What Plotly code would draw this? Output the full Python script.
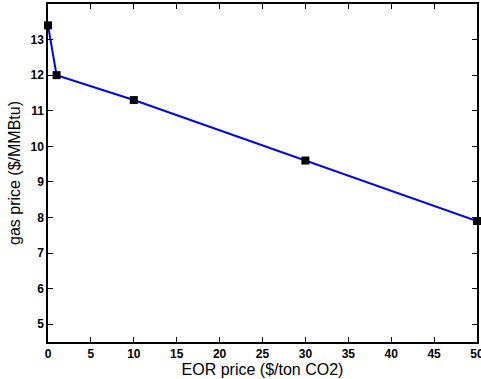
import plotly.graph_objects as go

eor_price = [0, 1, 10, 30, 50]
gas_price = [13.4, 12.0, 11.3, 9.6, 7.9]
x_ticks = [0, 5, 10, 15, 20, 25, 30, 35, 40, 45, 50]
y_ticks = [5, 6, 7, 8, 9, 10, 11, 12, 13]

fig = go.Figure()
fig.add_trace(go.Scatter(
    x=eor_price, y=gas_price, mode="lines+markers",
    line=dict(color="#0000ff", width=2),
    marker=dict(symbol="square", size=8, color="black"),
    cliponaxis=False,
))

axis_common = dict(
    showline=True, linecolor="black", linewidth=1.5, mirror="ticks",
    ticks="inside", ticklen=5, tickcolor="black", tickwidth=1,
    showgrid=False, zeroline=False, ticklabeloverflow="allow",
    tickfont=dict(family="Liberation Sans, Arial", size=12, color="black"),
)

fig.update_layout(
    width=481, height=379,
    margin=dict(l=48, r=4, t=4, b=37, autoexpand=False),
    paper_bgcolor="white", plot_bgcolor="white",
    showlegend=False,
    xaxis=dict(range=[0, 50], tickvals=x_ticks, ticktext=["<b>%d</b>" % v for v in x_ticks],
               automargin=False,
               title=dict(text="EOR price ($/ton CO2)", standoff=0,
                          font=dict(family="Liberation Sans, Arial", size=16, color="black")),
               **axis_common),
    yaxis=dict(range=[4.5, 14], tickvals=y_ticks, ticktext=["<b>%d</b>" % v for v in y_ticks],
               automargin=False,
               title=dict(text="gas price ($/MMBtu)", standoff=6,
                          font=dict(family="Liberation Sans, Arial", size=16, color="black")),
               **axis_common),
)

fig.write_html("out.html", config={"displayModeBar": False},
               post_script="document.body.style.margin='0';document.body.style.padding='0';")
